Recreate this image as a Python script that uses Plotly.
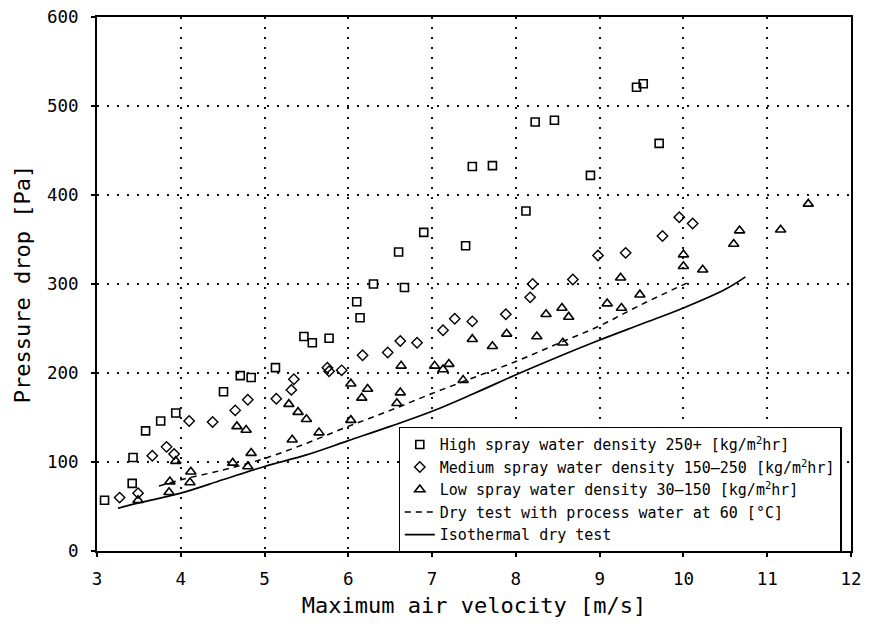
import plotly.graph_objects as go

# ---- data ----
high_x = [3.09, 3.42, 3.43, 3.58, 3.76, 3.94, 4.51, 4.71, 4.84, 5.13,
          5.47, 5.57, 5.77, 6.10, 6.14, 6.30, 6.60, 6.67, 6.90, 7.40,
          7.48, 7.72, 8.12, 8.23, 8.46, 8.89, 9.44, 9.52, 9.71]
high_y = [57, 76, 105, 135, 146, 155, 179, 197, 195, 206,
          241, 234, 239, 280, 262, 300, 336, 296, 358, 343,
          432, 433, 382, 482, 484, 422, 521, 525, 458]

med_x = [3.27, 3.49, 3.66, 3.83, 3.92, 4.10, 4.38, 4.65, 4.80, 5.14,
         5.32, 5.35, 5.75, 5.77, 5.92, 6.17, 6.47, 6.62, 6.82, 7.13,
         7.27, 7.48, 7.88, 8.17, 8.20, 8.68, 8.98, 9.31, 9.75, 9.95, 10.11]
med_y = [60, 65, 107, 117, 109, 146, 145, 158, 170, 171,
         181, 193, 206, 202, 203, 220, 223, 236, 234, 248,
         261, 258, 266, 285, 300, 305, 332, 335, 354, 375, 368]

low_x = [3.49, 3.86, 3.87, 3.94, 4.11, 4.12, 4.62, 4.80, 4.84, 4.67,
         4.78, 5.33, 5.29, 5.40, 5.50, 5.65, 6.03, 6.03, 6.16, 6.23,
         6.58, 6.62, 6.63, 7.03, 7.13, 7.20, 7.37, 7.48, 7.72, 7.89,
         8.25, 8.36, 8.55, 8.63, 8.56, 9.09, 9.25, 9.26, 9.48, 10.00,
         10.00, 10.23, 10.60, 10.67, 11.16, 11.49]
low_y = [57, 66, 78, 101, 77, 89, 99, 95, 110, 140,
         136, 125, 165, 156, 148, 133, 147, 188, 172, 182,
         166, 178, 208, 208, 204, 210, 192, 238, 230, 244,
         241, 266, 273, 263, 234, 278, 307, 273, 288, 333,
         320, 316, 345, 360, 361, 390]

dry60_x = [3.74, 4.0, 4.5, 5.0, 5.5, 6.0, 6.5, 7.0, 7.5, 8.0, 8.5, 9.0, 9.5, 10.04]
dry60_y = [73, 80, 91, 104, 121, 140, 158, 177, 195, 213, 233, 253, 277, 301]

iso_x = [3.25, 3.5, 4.0, 4.5, 5.0, 5.5, 6.0, 6.5, 7.0, 7.5, 8.0, 8.5, 9.0, 9.5, 10.0, 10.5, 10.74]
iso_y = [48, 54, 65, 80, 95, 108, 124, 140, 157, 177, 198, 218, 237, 255, 273, 294, 308]

x_ticks = [3, 4, 5, 6, 7, 8, 9, 10, 11, 12]
y_ticks = [0, 100, 200, 300, 400, 500, 600]

names = [
    "High spray water density 250+ [kg/m<sup>2</sup>hr]",
    "Medium spray water density 150–250 [kg/m<sup>2</sup>hr]",
    "Low spray water density 30–150 [kg/m<sup>2</sup>hr]",
    "Dry test with process water at 60 [°C]",
    "Isothermal dry test",
]

FONT = "DejaVu Sans Mono"
fig = go.Figure()

fig.add_trace(go.Scatter(x=high_x, y=high_y, mode="markers", name=names[0],
                         marker=dict(symbol="square-open", size=8, color="black",
                                     line=dict(width=1.6, color="black"))))
fig.add_trace(go.Scatter(x=med_x, y=med_y, mode="markers", name=names[1],
                         marker=dict(symbol="diamond-open", size=8, color="black",
                                     line=dict(width=1.4, color="black"))))
fig.add_trace(go.Scatter(x=low_x, y=low_y, mode="markers", name=names[2],
                         marker=dict(symbol="triangle-up-open", size=9, color="black",
                                     line=dict(width=1.6, color="black"))))
fig.add_trace(go.Scatter(x=dry60_x, y=dry60_y, mode="lines", name=names[3],
                         line=dict(color="black", width=1.5, dash="6px,5px", shape="spline")))
fig.add_trace(go.Scatter(x=iso_x, y=iso_y, mode="lines", name=names[4],
                         line=dict(color="black", width=1.7, shape="spline")))

axis_common = dict(
    showline=True, linecolor="black", linewidth=2, mirror=True,
    ticks="outside", ticklen=4, tickwidth=1.5, tickcolor="black",
    showgrid=True, gridcolor="#111", gridwidth=1.5, griddash="2px,8px",
    zeroline=False, automargin=False, ticklabeloverflow="allow",
    tickfont=dict(family=FONT, size=17.5, color="black"),
)

# the page body has an 8px margin: the figure is sized so the page fits the window exactly
fig.update_layout(
    width=854, height=610,
    margin=dict(l=89, r=11, t=9, b=67),
    paper_bgcolor="white", plot_bgcolor="white",
    font=dict(family=FONT, color="black"),
    showlegend=True,
    legend=dict(
        x=0.40, y=0.232, xanchor="left", yanchor="top",
        bgcolor="white", bordercolor="black", borderwidth=1.2,
        font=dict(family=FONT, size=15, color="black"),
        tracegroupgap=0, itemwidth=30,
    ),
    xaxis=dict(range=[3, 12], tickvals=x_ticks, ticklabelstandoff=7,
               title=dict(text="Maximum air velocity [m/s]",
                          font=dict(family=FONT, size=22, color="black"), standoff=11),
               **axis_common),
    yaxis=dict(range=[0, 600], tickvals=y_ticks, ticklabelstandoff=9,
               title=dict(text="Pressure drop [Pa]",
                          font=dict(family=FONT, size=22, color="black"), standoff=10),
               **axis_common),
    xaxis2=dict(overlaying="x", matches="x", anchor="y", range=[3, 12], tickvals=x_ticks,
                ticks="inside", ticklen=4, tickwidth=1.5, tickcolor="black", automargin=False,
                showticklabels=False, showgrid=False, showline=False, zeroline=False),
    yaxis2=dict(overlaying="y", matches="y", anchor="x", range=[0, 600], tickvals=y_ticks,
                ticks="inside", ticklen=4, tickwidth=1.5, tickcolor="black", automargin=False,
                showticklabels=False, showgrid=False, showline=False, zeroline=False),
)

fig.write_html("out.html")
